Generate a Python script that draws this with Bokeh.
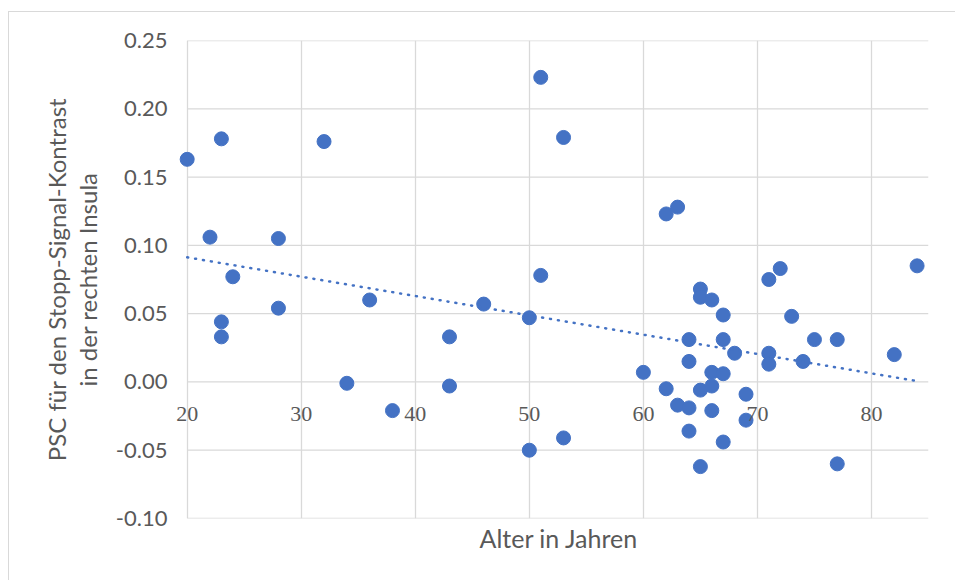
import numpy as np
from bokeh.plotting import figure
from bokeh.models import FixedTicker, NumeralTickFormatter, Range1d, Title, LabelSet, ColumnDataSource
from bokeh.embed import file_html
from bokeh.resources import INLINE

# --- data ---
age = [20, 22, 23, 23, 23, 24, 28, 28, 32, 34, 36, 38, 43, 43, 46, 50, 50, 51, 51, 53,
       53, 60, 62, 62, 63, 63, 64, 64, 64, 64, 65, 65, 65, 65, 66, 66, 66, 66, 67, 67,
       67, 67, 68, 69, 69, 71, 71, 71, 72, 73, 74, 75, 77, 77, 82, 84]
psc = [0.163, 0.106, 0.178, 0.044, 0.033, 0.077, 0.105, 0.054, 0.176, -0.001, 0.060,
       -0.021, 0.033, -0.003, 0.057, 0.047, -0.050, 0.223, 0.078, 0.179, -0.041, 0.007,
       0.123, -0.005, 0.128, -0.017, 0.031, 0.015, -0.019, -0.036, 0.068, 0.062, -0.006,
       -0.062, 0.060, 0.007, -0.003, -0.021, 0.049, 0.031, 0.006, -0.044, 0.021, -0.009,
       -0.028, 0.075, 0.021, 0.013, 0.083, 0.048, 0.015, 0.031, 0.031, -0.060, 0.020, 0.085]
x_min, x_max = 20, 85
x_ticks = [20, 30, 40, 50, 60, 70, 80]
x_tick_labels = ["20", "30", "40", "50", "60", "70", "80"]
y_ticks = [-0.10, -0.05, 0.00, 0.05, 0.10, 0.15, 0.20, 0.25]
x_title = "Alter in Jahren"
y_title = "PSC für den Stopp-Signal-Kontrast\nin der rechten Insula"

TEXT = "#595959"
GRID = "#d9d9d9"
BLUE = "#4472C4"
FONT = "Lato"

# the frame starts a little left of x=20 so the first marker and label are not clipped
p = figure(width=947, height=569, output_backend="svg", toolbar_location=None,
           x_range=Range1d(18.8, x_max), y_range=Range1d(y_ticks[0], y_ticks[-1]),
           min_border_left=164, min_border_right=28, min_border_top=28, min_border_bottom=63)
p.margin = (11, 0, 0, 8)
p.styles = {"border-left": "1px solid #d9d9d9", "border-top": "1px solid #d9d9d9"}
p.outline_line_color = None
p.background_fill_color = "white"
p.border_fill_color = "white"

# vertical grid lines
p.xgrid.ticker = FixedTicker(ticks=x_ticks)
p.xgrid.grid_line_color = GRID
p.xgrid.grid_line_width = 1.3
# horizontal grid lines only across the plot area (x_min .. x_max)
p.ygrid.visible = False
p.segment(x0=[x_min] * len(y_ticks), x1=[x_max] * len(y_ticks), y0=y_ticks, y1=y_ticks,
          line_color=GRID, line_width=1.3)

# x axis at y = 0 (Excel style); tick labels drawn below the zero line
xa = p.xaxis[0]
xa.fixed_location = 0
xa.bounds = (x_min, x_max)
xa.ticker = FixedTicker(ticks=x_ticks)
xa.major_tick_line_color = None
xa.minor_tick_line_color = None
xa.axis_line_color = None
xa.major_label_text_color = None

xlab_src = ColumnDataSource(data=dict(x=x_ticks, y=[0] * len(x_ticks), text=x_tick_labels))
p.add_layout(LabelSet(x="x", y="y", text="text", source=xlab_src, x_units="data", y_units="data",
                      y_offset=-32, text_align="center", text_baseline="middle",
                      text_font=FONT, text_font_size="22px", text_color=TEXT))

# y axis
ya = p.yaxis[0]
ya.ticker = FixedTicker(ticks=y_ticks)
ya.formatter = NumeralTickFormatter(format="0.00")
ya.major_tick_line_color = None
ya.minor_tick_line_color = None
ya.axis_line_color = None
ya.major_label_text_font = FONT
ya.major_label_text_font_size = "22px"
ya.major_label_text_color = TEXT
ya.major_label_standoff = 0
ya.axis_label = y_title
ya.axis_label_text_font = FONT
ya.axis_label_text_font_size = "24px"
ya.axis_label_text_font_style = "normal"
ya.axis_label_text_color = TEXT
ya.axis_label_text_line_height = 1.05
ya.axis_label_standoff = 11

p.add_layout(Title(text=x_title, align="left", offset=306, text_font=FONT, text_font_size="25px",
                   text_font_style="normal", text_color=TEXT, standoff=4), "below")

p.scatter(age, psc, size=14, color=BLUE, line_color=BLUE)

# linear trendline (least squares on the data)
k, d = np.polyfit(age, psc, 1)
tx = [min(age), max(age)]
ty = [k * v + d for v in tx]
p.line(tx, ty, line_color=BLUE, line_width=2.5, line_dash="1 7", line_cap="round")

open("out.html", "w").write(file_html(p, INLINE))
